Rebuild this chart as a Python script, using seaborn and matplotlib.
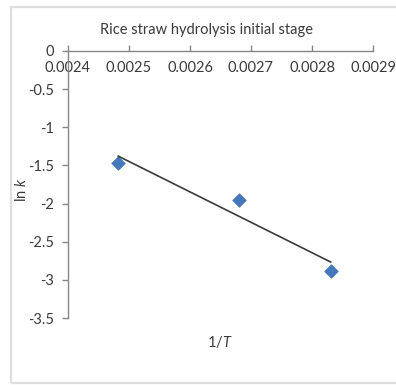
import matplotlib
matplotlib.use("Agg")
import matplotlib.pyplot as plt
from matplotlib.patches import Rectangle
import seaborn as sns
import pandas as pd

# Arrhenius data: reciprocal temperature vs. natural log of rate constant
inv_T = [0.002482, 0.002680, 0.002831]
ln_k = [-1.47, -1.95, -2.89]

x_ticks = [0.0024, 0.0025, 0.0026, 0.0027, 0.0028, 0.0029]
x_tick_labels = ["0.0024", "0.0025", "0.0026", "0.0027", "0.0028", "0.0029"]
y_ticks = [0, -0.5, -1, -1.5, -2, -2.5, -3, -3.5]
y_tick_labels = ["0", "-0.5", "-1", "-1.5", "-2", "-2.5", "-3", "-3.5"]

title = "Rice straw hydrolysis initial stage"

sns.set_theme(style="white")
plt.rcParams["font.family"] = ["Lato", "DejaVu Sans"]
plt.rcParams["mathtext.fontset"] = "custom"
plt.rcParams["mathtext.rm"] = "Lato"
plt.rcParams["mathtext.it"] = "Lato:italic"

text_color = "#3a3a3a"
axis_color = "#868686"
marker_color = "#4477bb"
fs = 10.5

df = pd.DataFrame({"inv_T": inv_T, "ln_k": ln_k})

W, H = 396, 385
fig = plt.figure(figsize=(W / 100, H / 100), dpi=100)
fig.patch.set_facecolor("white")

# chart-area frame
fig.patches.append(Rectangle((10.5 / W, 2 / H), 400 / W, (H - 9) / H,
                             transform=fig.transFigure, fill=False,
                             edgecolor="#dedede", linewidth=1.6))

left, right = 68 / W, 373 / W
top, bottom = 1 - 51 / H, 1 - 318 / H
ax = fig.add_axes([left, bottom, right - left, top - bottom])
ax.set_facecolor("none")

sns.regplot(data=df, x="inv_T", y="ln_k", ax=ax, ci=None, truncate=True,
            marker="D",
            scatter_kws={"s": 48, "color": marker_color, "edgecolor": marker_color,
                         "linewidths": 0.5, "alpha": 1, "zorder": 3},
            line_kws={"color": "#3a3a3a", "linewidth": 1.2, "zorder": 4})

ax.set_xlim(0.0024, 0.0029)
ax.set_ylim(-3.5, 0)
ax.set_xticks(x_ticks)
ax.set_xticklabels(x_tick_labels)
ax.set_yticks(y_ticks)
ax.set_yticklabels(y_tick_labels)

# horizontal axis crosses at y = 0 (top of plot area)
ax.spines["bottom"].set_position(("data", 0))
ax.spines["top"].set_visible(False)
ax.spines["right"].set_visible(False)
for s in ("bottom", "left"):
    ax.spines[s].set_color(axis_color)
    ax.spines[s].set_linewidth(1.0)

ax.tick_params(axis="x", which="major", direction="in", length=4, width=1.0,
               color=axis_color, labelsize=fs, labelcolor=text_color, pad=7,
               bottom=True)
ax.tick_params(axis="y", which="major", direction="out", length=4, width=1.0,
               color=axis_color, labelsize=fs, labelcolor=text_color, pad=6,
               left=True)
ax.grid(False)

ax.set_xlabel("")
ax.set_ylabel("")
fig.text(220 / W, 1 - 342 / H, "1/$T$", ha="center", va="center",
         fontsize=fs, color=text_color)
fig.text(22 / W, 1 - 190 / H, "ln $k$", ha="center", va="center",
         rotation=90, fontsize=fs, color=text_color)
fig.text(207 / W, 1 - 30 / H, title, ha="center", va="center",
         fontsize=fs, color=text_color)

fig.savefig("out.png", dpi=100, facecolor="white")
